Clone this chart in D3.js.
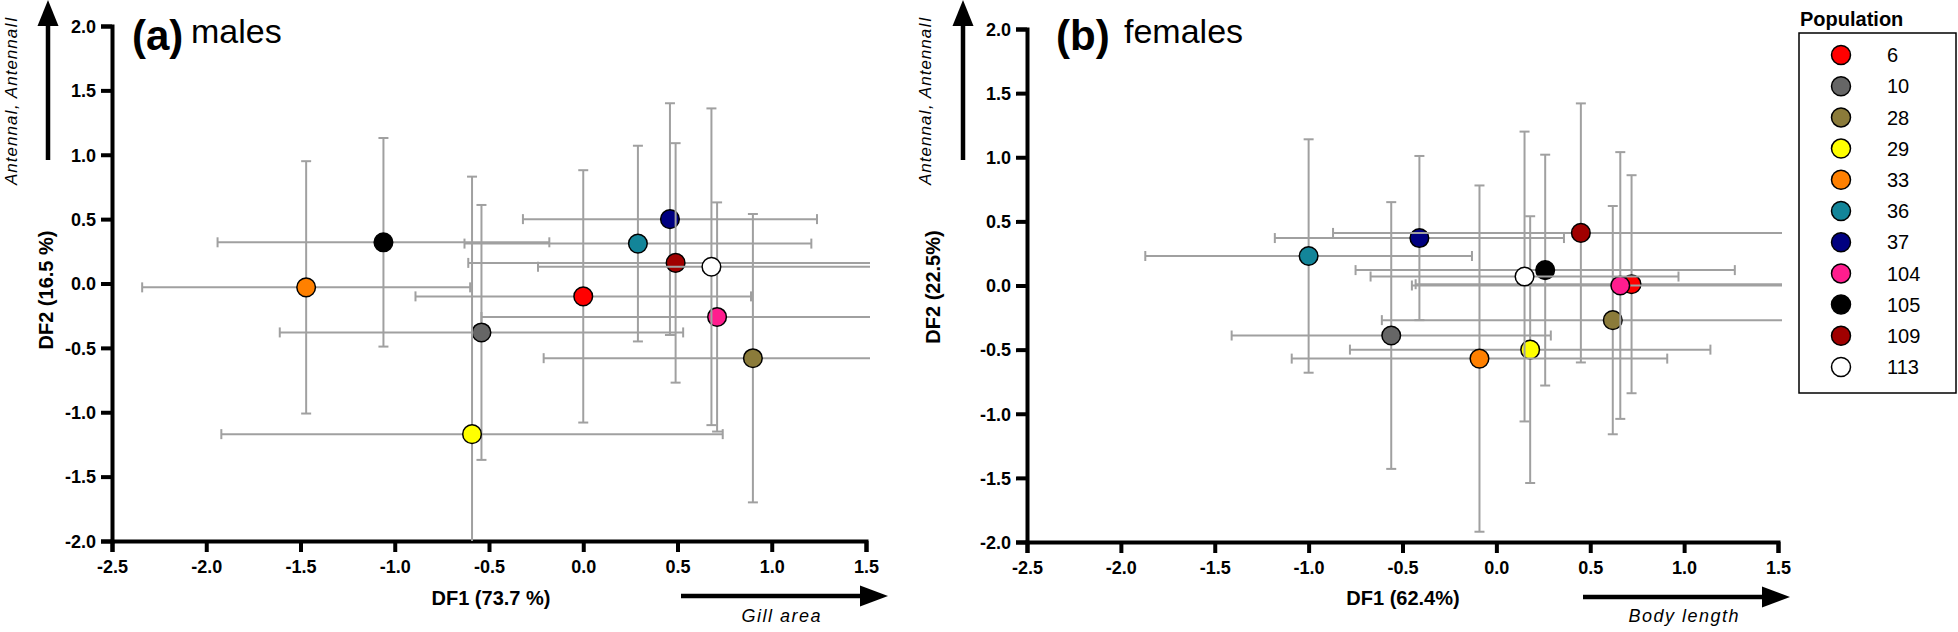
<!DOCTYPE html>
<html><head><meta charset="utf-8">
<script src="https://cdn.jsdelivr.net/npm/d3@7"></script>
<style>
html,body{margin:0;padding:0;background:#fff;}
svg{display:block;font-family:"Liberation Sans",Arial,sans-serif;}
</style></head><body>
<svg id="chart" width="1958" height="632"></svg>
<script>
// ---------- data ----------
const populations = ["6","10","28","29","33","36","37","104","105","109","113"];
const popColors   = ["#ff0000","#666666","#8b7b3a","#ffff00","#ff8000","#138599","#000080","#ff1d8e","#000000","#a00000","#ffffff"];

// (a) males: group centroids and error bars
const malesDF1    = [0.00, -0.54, 0.90, -0.59, -1.47, 0.29, 0.46, 0.71, -1.06, 0.49, 0.68];
const malesDF2    = [-0.10, -0.38, -0.58, -1.17, -0.03, 0.31, 0.50, -0.26, 0.32, 0.16, 0.13];
const malesDF1Err = [0.89, 1.07, 1.11, 1.33, 0.87, 0.92, 0.78, 1.25, 0.88, 1.10, 0.92];
const malesDF2Err = [0.98, 0.99, 1.12, 2.00, 0.98, 0.76, 0.90, 0.89, 0.81, 0.93, 1.23];

// (b) females
const femalesDF1    = [0.72, -0.56, 0.62, 0.18, -0.09, -1.00, -0.41, 0.66, 0.26, 0.45, 0.15];
const femalesDF2    = [0.01, -0.39, -0.27, -0.50, -0.57, 0.23, 0.37, 0.00, 0.12, 0.41, 0.07];
const femalesDF1Err = [1.15, 0.85, 1.23, 0.96, 1.00, 0.87, 0.77, 1.11, 1.01, 1.32, 0.82];
const femalesDF2Err = [0.85, 1.04, 0.89, 1.04, 1.35, 0.91, 0.64, 1.04, 0.90, 1.01, 1.13];

const xTicks = [-2.5, -2.0, -1.5, -1.0, -0.5, 0.0, 0.5, 1.0, 1.5];
const yTicks = [-2.0, -1.5, -1.0, -0.5, 0.0, 0.5, 1.0, 1.5, 2.0];

const panelLetters = ["(a)", "(b)"];
const panelSexes   = ["males", "females"];
const xTitles      = ["DF1 (73.7 %)", "DF1 (62.4%)"];
const yTitles      = ["DF2 (16.5 %)", "DF2 (22.5%)"];
const xArrowLabels = ["Gill area", "Body length"];
const yArrowLabel  = "AntennaI, AntennaII";
const legendTitle  = "Population";

// ---------- layout ----------
const FONT = '"Liberation Sans", Arial, sans-serif';
const layouts = [
  {left:112, right:866, top:26, bottom:541, letterX:132, sexX:191, yTitleX:53, yTitleY:290,
   xTitleX:491, vArrowX:48, antX:17, hArrowX0:681, hArrowX1:888, hArrowY:596, hTextEnd:822},
  {left:1027, right:1778, top:29, bottom:542, letterX:1056, sexX:1124, yTitleX:940, yTitleY:287,
   xTitleX:1403, vArrowX:963, antX:931, hArrowX0:1583, hArrowX1:1790, hArrowY:597, hTextEnd:1740}
];
const panelData = [
  {df1:malesDF1, df2:malesDF2, e1:malesDF1Err, e2:malesDF2Err},
  {df1:femalesDF1, df2:femalesDF2, e1:femalesDF1Err, e2:femalesDF2Err}
];

const svg = d3.select("#chart");
const defs = svg.append("defs");
const fmt = d => d.toFixed(1);

layouts.forEach((L, pi) => {
  const P = panelData[pi];
  const x = d3.scaleLinear().domain([-2.5, 1.5]).range([L.left, L.right]);
  const y = d3.scaleLinear().domain([-2, 2]).range([L.bottom, L.top]);
  const g = svg.append("g");

  defs.append("clipPath").attr("id", "clip" + pi).append("rect")
    .attr("x", L.left).attr("y", L.top - 2)
    .attr("width", L.right - L.left + 4).attr("height", L.bottom - L.top + 2);

  // axes
  const xa = g.append("g").attr("transform", `translate(0,${L.bottom})`)
    .call(d3.axisBottom(x).tickValues(xTicks).tickFormat(fmt).tickSize(11));
  const ya = g.append("g").attr("transform", `translate(${L.left},0)`)
    .call(d3.axisLeft(y).tickValues(yTicks).tickFormat(fmt).tickSize(11));
  [xa, ya].forEach(a => {
    a.attr("font-size", 18).attr("font-family", FONT).attr("font-weight", "bold");
    a.select(".domain").attr("stroke", "#000").attr("stroke-width", 4);
    a.selectAll(".tick line").attr("stroke", "#000").attr("stroke-width", 4);
    a.selectAll(".tick text").attr("fill", "#000");
  });
  xa.selectAll(".tick text").attr("y", 32).attr("dy", 0);
  ya.selectAll(".tick text").attr("x", -16).attr("dy", "0.35em");

  // points with error bars, drawn in legend order
  populations.forEach((p, i) => {
    const sg = g.append("g");
    const eb = sg.append("g").attr("clip-path", `url(#clip${pi})`)
      .attr("stroke", "#a0a0a0").attr("stroke-width", 2);
    const cx = x(P.df1[i]), cy = y(P.df2[i]);
    const xl = x(P.df1[i] - P.e1[i]), xr = x(P.df1[i] + P.e1[i]);
    const yt = y(P.df2[i] + P.e2[i]), yb = y(P.df2[i] - P.e2[i]);
    const cap = 5;
    eb.append("line").attr("x1", xl).attr("x2", xr).attr("y1", cy).attr("y2", cy);
    eb.append("line").attr("x1", xl).attr("x2", xl).attr("y1", cy - cap).attr("y2", cy + cap);
    eb.append("line").attr("x1", xr).attr("x2", xr).attr("y1", cy - cap).attr("y2", cy + cap);
    eb.append("line").attr("x1", cx).attr("x2", cx).attr("y1", yt).attr("y2", yb);
    eb.append("line").attr("x1", cx - cap).attr("x2", cx + cap).attr("y1", yt).attr("y2", yt);
    eb.append("line").attr("x1", cx - cap).attr("x2", cx + cap).attr("y1", yb).attr("y2", yb);
    sg.append("circle").attr("cx", cx).attr("cy", cy).attr("r", 9.3)
      .attr("fill", popColors[i]).attr("stroke", "#000").attr("stroke-width", 1.5);
  });

  // panel titles
  g.append("text").attr("x", L.letterX).attr("y", 50)
    .attr("font-family", FONT).attr("font-weight", "bold").attr("font-size", 42).text(panelLetters[pi]);
  g.append("text").attr("x", L.sexX).attr("y", 43)
    .attr("font-family", FONT).attr("font-size", 34).text(panelSexes[pi]);

  // axis titles
  g.append("text").attr("x", L.xTitleX).attr("y", 605).attr("text-anchor", "middle")
    .attr("font-family", FONT).attr("font-weight", "bold").attr("font-size", 20).text(xTitles[pi]);
  g.append("text").attr("transform", `translate(${L.yTitleX},${L.yTitleY}) rotate(-90)`)
    .attr("text-anchor", "middle").attr("font-family", FONT).attr("font-weight", "bold")
    .attr("font-size", 20).text(yTitles[pi]);

  // vertical arrow
  g.append("line").attr("x1", L.vArrowX).attr("x2", L.vArrowX).attr("y1", 160).attr("y2", 22)
    .attr("stroke", "#000").attr("stroke-width", 4.5);
  g.append("path").attr("d", `M${L.vArrowX},0 L${L.vArrowX - 10.5},26 L${L.vArrowX + 10.5},26 Z`).attr("fill", "#000");
  g.append("text").attr("transform", `translate(${L.antX},185) rotate(-90)`)
    .attr("font-family", FONT).attr("font-style", "italic").attr("font-size", 17)
    .attr("letter-spacing", 1).text(yArrowLabel);

  // horizontal arrow
  g.append("line").attr("x1", L.hArrowX0).attr("x2", L.hArrowX1 - 24).attr("y1", L.hArrowY).attr("y2", L.hArrowY)
    .attr("stroke", "#000").attr("stroke-width", 4.5);
  g.append("path").attr("d", `M${L.hArrowX1},${L.hArrowY} L${L.hArrowX1 - 28},${L.hArrowY - 10.5} L${L.hArrowX1 - 28},${L.hArrowY + 10.5} Z`).attr("fill", "#000");
  g.append("text").attr("x", L.hTextEnd).attr("y", 622).attr("text-anchor", "end")
    .attr("font-family", FONT).attr("font-style", "italic").attr("font-size", 18)
    .attr("letter-spacing", 1.5).text(xArrowLabels[pi]);
});

// legend
const lg = svg.append("g");
lg.append("text").attr("x", 1800).attr("y", 26).attr("font-family", FONT)
  .attr("font-weight", "bold").attr("font-size", 20).text(legendTitle);
lg.append("rect").attr("x", 1799).attr("y", 33).attr("width", 157).attr("height", 360)
  .attr("fill", "none").attr("stroke", "#000").attr("stroke-width", 1.5);
const ly = d3.scalePoint().domain(populations).range([55, 367]);
populations.forEach((p, i) => {
  lg.append("circle").attr("cx", 1841).attr("cy", ly(p)).attr("r", 9.5)
    .attr("fill", popColors[i]).attr("stroke", "#000").attr("stroke-width", 1.5);
  lg.append("text").attr("x", 1887).attr("y", ly(p)).attr("dy", "0.36em")
    .attr("font-family", FONT).attr("font-size", 20).text(p);
});
</script>
</body></html>
